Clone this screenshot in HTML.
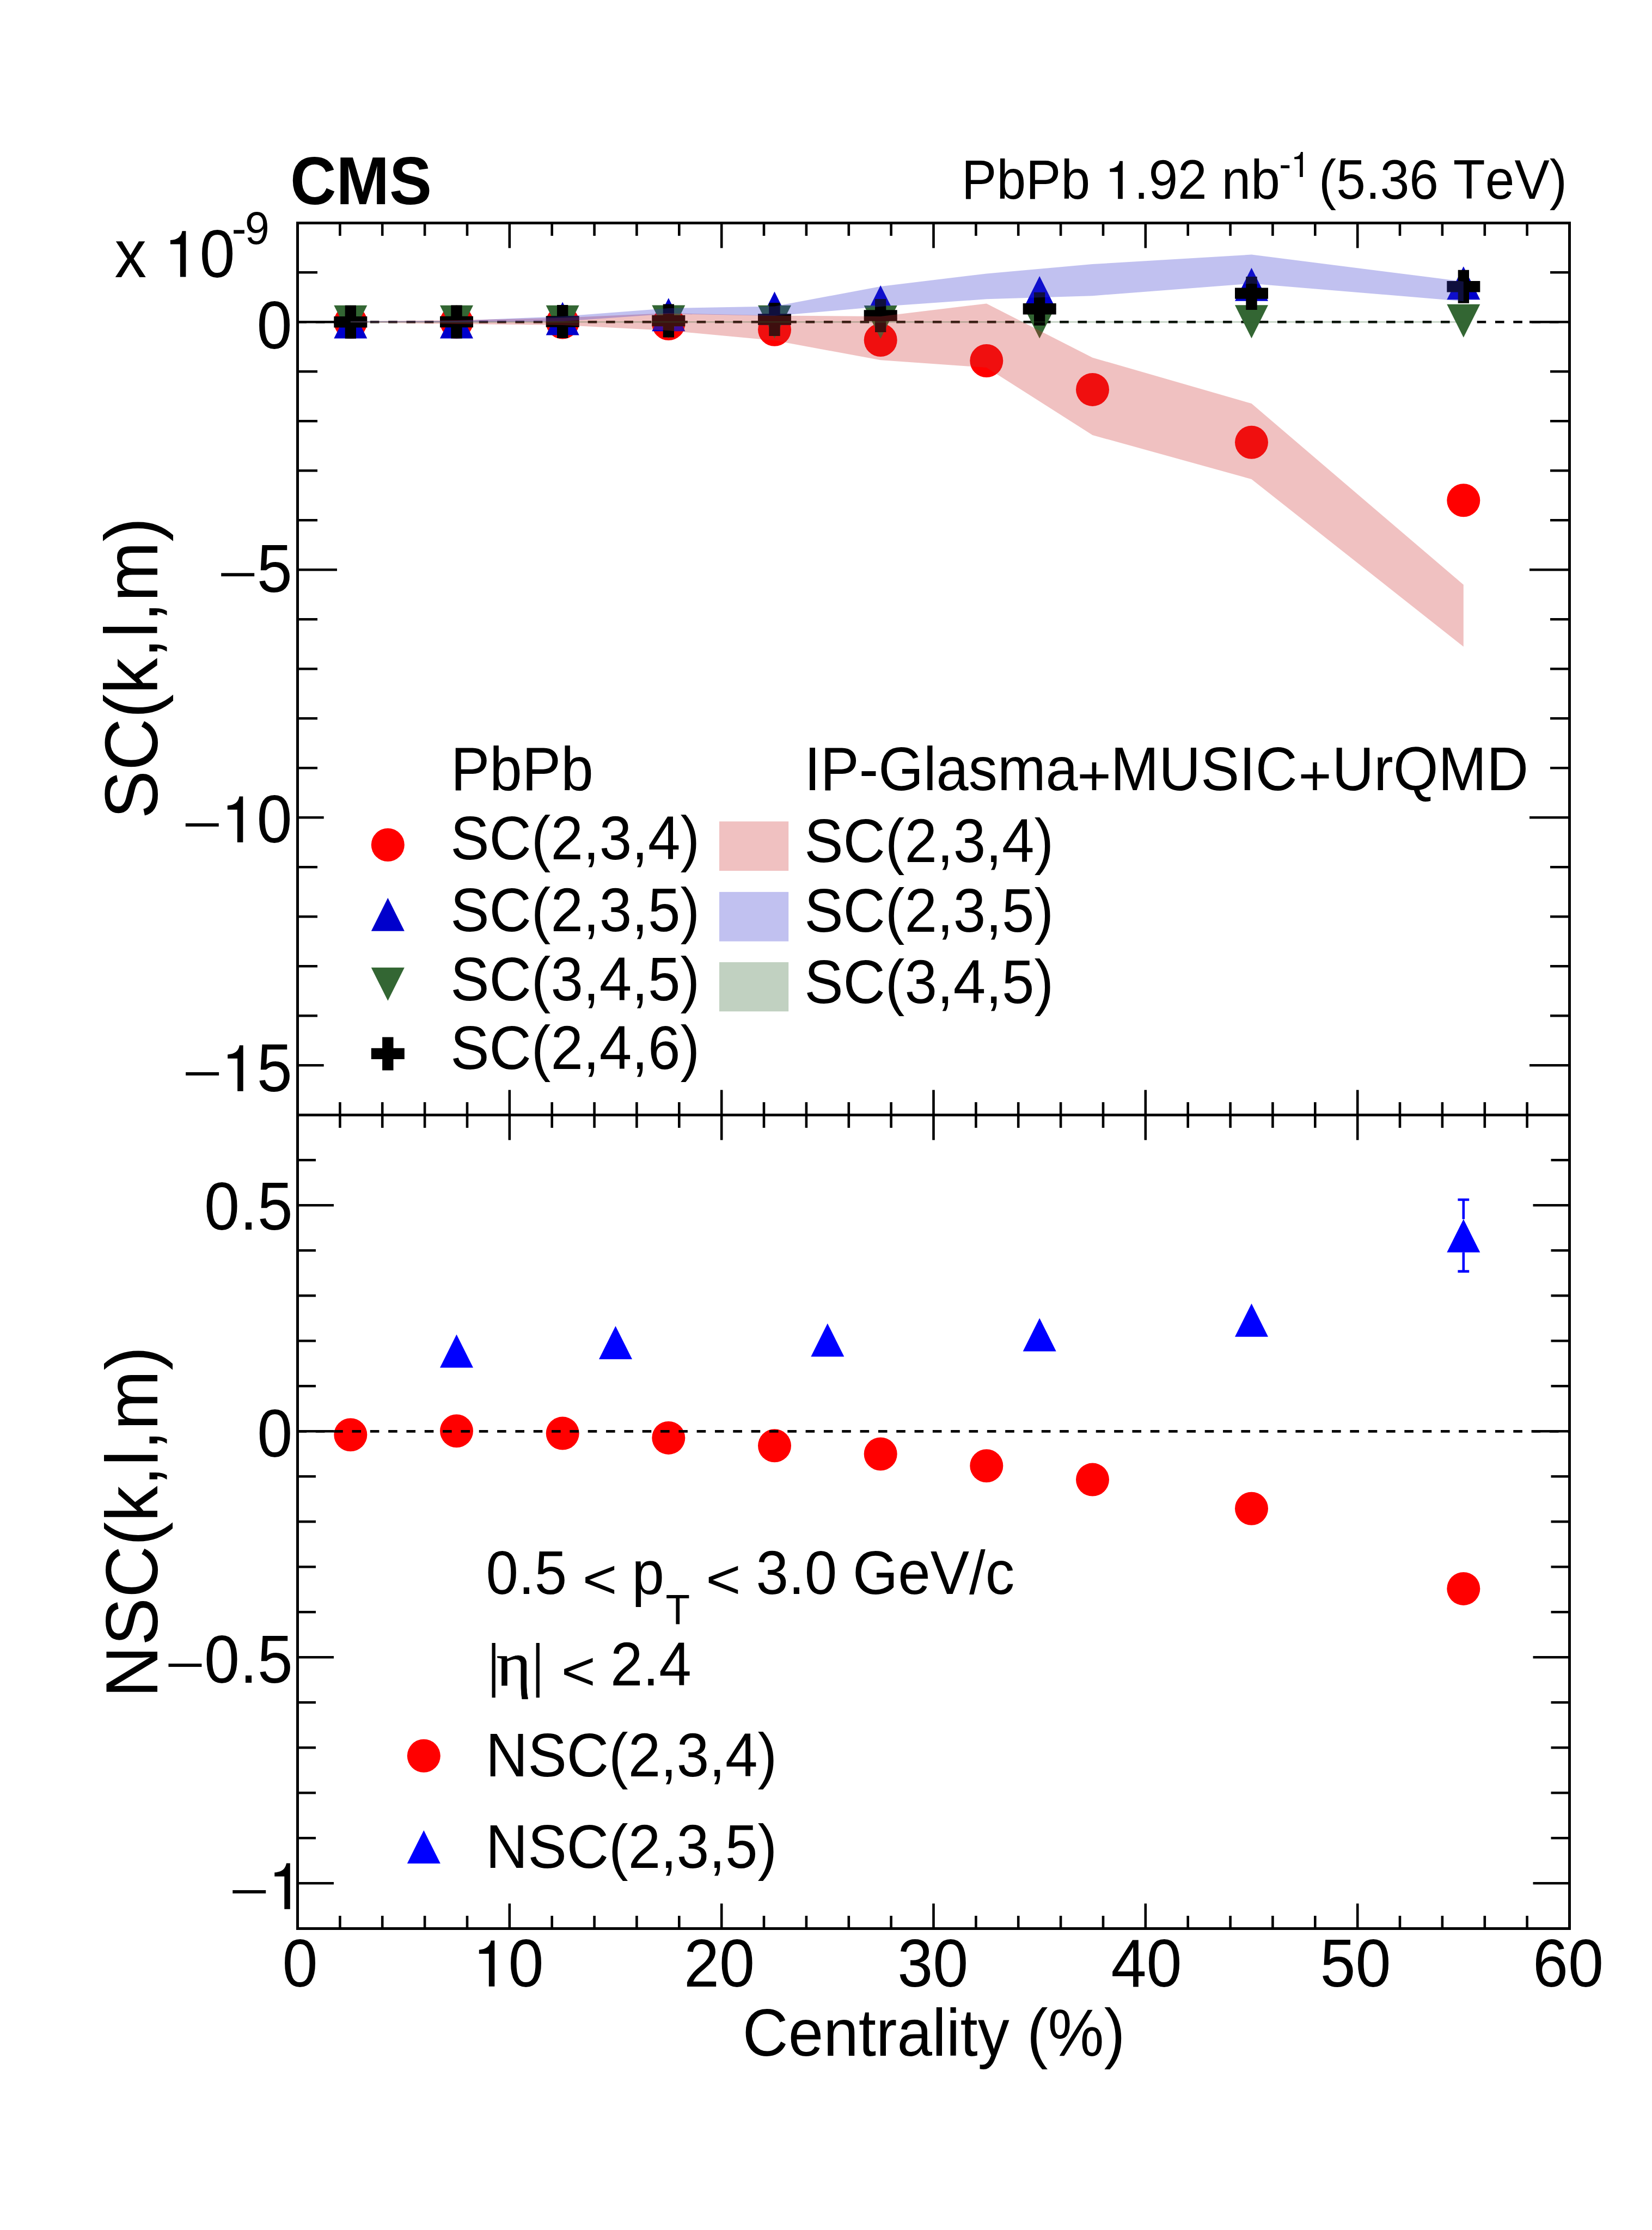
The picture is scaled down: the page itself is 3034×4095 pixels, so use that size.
<!DOCTYPE html>
<html><head><meta charset="utf-8"><title>CMS SC NSC</title><style>html,body{margin:0;padding:0;background:#fff;}svg{display:block;} text{font-kerning:none;}</style></head><body>
<svg width="3034" height="4095" viewBox="0 0 3034 4095">
<rect x="0" y="0" width="3034" height="4095" fill="#fff"/>
<line x1="546.5" y1="591.2" x2="2882.5" y2="591.2" stroke="#000" stroke-width="4.6" stroke-dasharray="16.6 16.725"/>
<circle cx="643.8" cy="591.5" r="30.5" fill="#ff0000"/>
<circle cx="838.5" cy="591.2" r="30.5" fill="#ff0000"/>
<circle cx="1033.2" cy="592.0" r="30.5" fill="#ff0000"/>
<circle cx="1227.8" cy="594.5" r="30.5" fill="#ff0000"/>
<circle cx="1422.5" cy="605.3" r="30.5" fill="#ff0000"/>
<circle cx="1617.2" cy="624.5" r="30.5" fill="#ff0000"/>
<circle cx="1811.8" cy="662.5" r="30.5" fill="#ff0000"/>
<circle cx="2006.5" cy="715.4" r="30.5" fill="#ff0000"/>
<circle cx="2298.5" cy="812.3" r="30.5" fill="#ff0000"/>
<circle cx="2687.8" cy="918.8" r="30.5" fill="#ff0000"/>
<path d="M613.3,621.6L674.3,621.6L643.8,560.6Z" fill="#0000cc"/>
<path d="M808.0,621.5L869.0,621.5L838.5,560.5Z" fill="#0000cc"/>
<path d="M1002.7,615.5L1063.7,615.5L1033.2,554.5Z" fill="#0000cc"/>
<path d="M1197.3,608.2L1258.3,608.2L1227.8,547.2Z" fill="#0000cc"/>
<path d="M1392.0,596.5L1453.0,596.5L1422.5,535.5Z" fill="#0000cc"/>
<path d="M1586.7,585.0L1647.7,585.0L1617.2,524.0Z" fill="#0000cc"/>
<path d="M1878.7,568.0L1939.7,568.0L1909.2,507.0Z" fill="#0000cc"/>
<path d="M2268.0,552.7L2329.0,552.7L2298.5,491.7Z" fill="#0000cc"/>
<path d="M2657.3,550.2L2718.3,550.2L2687.8,489.2Z" fill="#0000cc"/>
<path d="M613.3,560.7L674.3,560.7L643.8,621.7Z" fill="#336633"/>
<path d="M808.0,560.7L869.0,560.7L838.5,621.7Z" fill="#336633"/>
<path d="M1002.7,560.7L1063.7,560.7L1033.2,621.7Z" fill="#336633"/>
<path d="M1197.3,560.5L1258.3,560.5L1227.8,621.5Z" fill="#336633"/>
<path d="M1392.0,560.8L1453.0,560.8L1422.5,621.8Z" fill="#336633"/>
<path d="M1586.7,561.0L1647.7,561.0L1617.2,622.0Z" fill="#336633"/>
<path d="M1878.7,560.4L1939.7,560.4L1909.2,621.4Z" fill="#336633"/>
<path d="M2268.0,560.2L2329.0,560.2L2298.5,621.2Z" fill="#336633"/>
<path d="M2657.3,558.8L2718.3,558.8L2687.8,619.8Z" fill="#336633"/>
<path d="M633.7,560.7H654.0V581.0H674.3V601.4H654.0V621.7H633.7V601.4H613.3V581.0H633.7Z" fill="#000"/>
<path d="M828.3,560.5H848.7V580.8H869.0V601.2H848.7V621.5H828.3V601.2H808.0V580.8H828.3Z" fill="#000"/>
<path d="M1023.0,560.0H1043.3V580.3H1063.7V600.7H1043.3V621.0H1023.0V600.7H1002.7V580.3H1023.0Z" fill="#000"/>
<path d="M1217.7,558.5H1238.0V578.8H1258.3V599.2H1238.0V619.5H1217.7V599.2H1197.3V578.8H1217.7Z" fill="#000"/>
<path d="M1412.3,556.0H1432.7V576.3H1453.0V596.7H1432.7V617.0H1412.3V596.7H1392.0V576.3H1412.3Z" fill="#000"/>
<path d="M1607.0,549.0H1627.3V569.3H1647.7V589.7H1627.3V610.0H1607.0V589.7H1586.7V569.3H1607.0Z" fill="#000"/>
<path d="M1899.0,536.8H1919.3V557.1H1939.7V577.5H1919.3V597.8H1899.0V577.5H1878.7V557.1H1899.0Z" fill="#000"/>
<path d="M2288.3,508.1H2308.7V528.4H2329.0V548.8H2308.7V569.1H2288.3V548.8H2268.0V528.4H2288.3Z" fill="#000"/>
<path d="M2677.7,495.7H2698.0V516.0H2718.3V536.4H2698.0V556.7H2677.7V536.4H2657.3V516.0H2677.7Z" fill="#000"/>
<polygon points="643.8,590.0 838.5,588.0 1033.2,583.6 1227.8,575.0 1422.5,579.5 1617.2,581.0 1811.8,557.5 2006.5,656.7 2298.5,741.0 2687.8,1073.8 2687.8,1187.5 2298.5,880.0 2006.5,799.0 1811.8,674.9 1617.2,661.3 1422.5,625.3 1227.8,607.0 1033.2,597.0 838.5,595.0 643.8,592.0" fill="#cc3333" fill-opacity="0.3"/>
<polygon points="643.8,590.0 838.5,589.0 1033.2,581.0 1227.8,566.0 1422.5,562.5 1617.2,526.0 1811.8,502.4 2006.5,485.1 2298.5,467.5 2687.8,516.9 2687.8,553.2 2298.5,520.7 2006.5,543.2 1811.8,549.3 1617.2,563.0 1422.5,580.0 1227.8,576.3 1033.2,590.0 838.5,592.0 643.8,592.0" fill="#3333cc" fill-opacity="0.3"/>
<polygon points="643.8,590.0 838.5,590.0 1033.2,590.0 1227.8,590.0 1422.5,590.0 1617.2,590.0 1811.8,590.0 2006.5,590.0 2298.5,590.0 2687.8,590.0 2687.8,592.4 2298.5,592.4 2006.5,592.4 1811.8,592.4 1617.2,592.4 1422.5,592.4 1227.8,592.4 1033.2,592.4 838.5,592.4 643.8,592.4" fill="#336633" fill-opacity="0.3"/>
<circle cx="643.8" cy="2634.7" r="30.5" fill="#ff0000"/>
<circle cx="838.5" cy="2627.7" r="30.5" fill="#ff0000"/>
<circle cx="1033.2" cy="2632.1" r="30.5" fill="#ff0000"/>
<circle cx="1227.8" cy="2640.4" r="30.5" fill="#ff0000"/>
<circle cx="1422.5" cy="2654.8" r="30.5" fill="#ff0000"/>
<circle cx="1617.2" cy="2670.0" r="30.5" fill="#ff0000"/>
<circle cx="1811.8" cy="2691.7" r="30.5" fill="#ff0000"/>
<circle cx="2006.5" cy="2717.1" r="30.5" fill="#ff0000"/>
<circle cx="2298.5" cy="2770.2" r="30.5" fill="#ff0000"/>
<circle cx="2687.8" cy="2917.4" r="30.5" fill="#ff0000"/>
<path d="M808.0,2511.6L869.0,2511.6L838.5,2450.6Z" fill="#0000ff"/>
<path d="M1100.0,2495.9L1161.0,2495.9L1130.5,2434.9Z" fill="#0000ff"/>
<path d="M1489.3,2491.2L1550.3,2491.2L1519.8,2430.2Z" fill="#0000ff"/>
<path d="M1878.7,2481.5L1939.7,2481.5L1909.2,2420.5Z" fill="#0000ff"/>
<path d="M2268.0,2454.7L2329.0,2454.7L2298.5,2393.7Z" fill="#0000ff"/>
<path d="M2657.3,2299.8L2718.3,2299.8L2687.8,2238.8Z" fill="#0000ff"/>
<path d="M2687.8,2203V2238.8M2687.8,2299.8V2334.6M2677.4,2203H2698.2M2677.4,2334.6H2698.2" stroke="#0000ff" stroke-width="4.6" fill="none"/>
<line x1="546.5" y1="2628.3" x2="2882.5" y2="2628.3" stroke="#000" stroke-width="4.8" stroke-dasharray="16.6 16.725"/>
<path d="M624.4,409.5V433.0M624.4,2047.5V2024.0M702.2,409.5V433.0M702.2,2047.5V2024.0M780.1,409.5V433.0M780.1,2047.5V2024.0M858.0,409.5V433.0M858.0,2047.5V2024.0M935.8,409.5V455.5M935.8,2047.5V2001.5M1013.7,409.5V433.0M1013.7,2047.5V2024.0M1091.6,409.5V433.0M1091.6,2047.5V2024.0M1169.4,409.5V433.0M1169.4,2047.5V2024.0M1247.3,409.5V433.0M1247.3,2047.5V2024.0M1325.2,409.5V455.5M1325.2,2047.5V2001.5M1403.0,409.5V433.0M1403.0,2047.5V2024.0M1480.9,409.5V433.0M1480.9,2047.5V2024.0M1558.8,409.5V433.0M1558.8,2047.5V2024.0M1636.6,409.5V433.0M1636.6,2047.5V2024.0M1714.5,409.5V455.5M1714.5,2047.5V2001.5M1792.4,409.5V433.0M1792.4,2047.5V2024.0M1870.2,409.5V433.0M1870.2,2047.5V2024.0M1948.1,409.5V433.0M1948.1,2047.5V2024.0M2026.0,409.5V433.0M2026.0,2047.5V2024.0M2103.8,409.5V455.5M2103.8,2047.5V2001.5M2181.7,409.5V433.0M2181.7,2047.5V2024.0M2259.6,409.5V433.0M2259.6,2047.5V2024.0M2337.4,409.5V433.0M2337.4,2047.5V2024.0M2415.3,409.5V433.0M2415.3,2047.5V2024.0M2493.2,409.5V455.5M2493.2,2047.5V2001.5M2571.0,409.5V433.0M2571.0,2047.5V2024.0M2648.9,409.5V433.0M2648.9,2047.5V2024.0M2726.8,409.5V433.0M2726.8,2047.5V2024.0M2804.6,409.5V433.0M2804.6,2047.5V2024.0" stroke="#000" stroke-width="4.6" fill="none"/>
<path d="M624.4,2047.5V2071.0M624.4,3541.5V3518.0M702.2,2047.5V2071.0M702.2,3541.5V3518.0M780.1,2047.5V2071.0M780.1,3541.5V3518.0M858.0,2047.5V2071.0M858.0,3541.5V3518.0M935.8,2047.5V2093.5M935.8,3541.5V3495.5M1013.7,2047.5V2071.0M1013.7,3541.5V3518.0M1091.6,2047.5V2071.0M1091.6,3541.5V3518.0M1169.4,2047.5V2071.0M1169.4,3541.5V3518.0M1247.3,2047.5V2071.0M1247.3,3541.5V3518.0M1325.2,2047.5V2093.5M1325.2,3541.5V3495.5M1403.0,2047.5V2071.0M1403.0,3541.5V3518.0M1480.9,2047.5V2071.0M1480.9,3541.5V3518.0M1558.8,2047.5V2071.0M1558.8,3541.5V3518.0M1636.6,2047.5V2071.0M1636.6,3541.5V3518.0M1714.5,2047.5V2093.5M1714.5,3541.5V3495.5M1792.4,2047.5V2071.0M1792.4,3541.5V3518.0M1870.2,2047.5V2071.0M1870.2,3541.5V3518.0M1948.1,2047.5V2071.0M1948.1,3541.5V3518.0M2026.0,2047.5V2071.0M2026.0,3541.5V3518.0M2103.8,2047.5V2093.5M2103.8,3541.5V3495.5M2181.7,2047.5V2071.0M2181.7,3541.5V3518.0M2259.6,2047.5V2071.0M2259.6,3541.5V3518.0M2337.4,2047.5V2071.0M2337.4,3541.5V3518.0M2415.3,2047.5V2071.0M2415.3,3541.5V3518.0M2493.2,2047.5V2093.5M2493.2,3541.5V3495.5M2571.0,2047.5V2071.0M2571.0,3541.5V3518.0M2648.9,2047.5V2071.0M2648.9,3541.5V3518.0M2726.8,2047.5V2071.0M2726.8,3541.5V3518.0M2804.6,2047.5V2071.0M2804.6,3541.5V3518.0" stroke="#000" stroke-width="4.6" fill="none"/>
<path d="M546.5,1865.2H583.0M2882.5,1865.2H2847.0M546.5,1774.2H583.0M2882.5,1774.2H2847.0M546.5,1683.2H583.0M2882.5,1683.2H2847.0M546.5,1592.2H583.0M2882.5,1592.2H2847.0M546.5,1410.2H583.0M2882.5,1410.2H2847.0M546.5,1319.2H583.0M2882.5,1319.2H2847.0M546.5,1228.2H583.0M2882.5,1228.2H2847.0M546.5,1137.2H583.0M2882.5,1137.2H2847.0M546.5,1046.2H619.0M2882.5,1046.2H2809.0M546.5,955.2H583.0M2882.5,955.2H2847.0M546.5,864.2H583.0M2882.5,864.2H2847.0M546.5,773.2H583.0M2882.5,773.2H2847.0M546.5,682.2H583.0M2882.5,682.2H2847.0M546.5,591.2H619.0M2882.5,591.2H2809.0M546.5,500.2H583.0M2882.5,500.2H2847.0" stroke="#000" stroke-width="4.6" fill="none"/>
<path d="M546.5,1501.2H594.7M2882.5,1501.2H2809.0M546.5,1956.2H594.7M2882.5,1956.2H2809.0" stroke="#000" stroke-width="4.6" fill="none"/>
<path d="M546.5,3458.3H613.0M2882.5,3458.3H2815.5M546.5,3375.3H580.0M2882.5,3375.3H2848.5M546.5,3292.3H580.0M2882.5,3292.3H2848.5M546.5,3209.3H580.0M2882.5,3209.3H2848.5M546.5,3126.3H580.0M2882.5,3126.3H2848.5M546.5,3043.3H613.0M2882.5,3043.3H2815.5M546.5,2960.3H580.0M2882.5,2960.3H2848.5M546.5,2877.3H580.0M2882.5,2877.3H2848.5M546.5,2794.3H580.0M2882.5,2794.3H2848.5M546.5,2711.3H580.0M2882.5,2711.3H2848.5M546.5,2628.3H613.0M2882.5,2628.3H2815.5M546.5,2545.3H580.0M2882.5,2545.3H2848.5M546.5,2462.3H580.0M2882.5,2462.3H2848.5M546.5,2379.3H580.0M2882.5,2379.3H2848.5M546.5,2296.3H580.0M2882.5,2296.3H2848.5M546.5,2213.3H613.0M2882.5,2213.3H2815.5M546.5,2130.3H580.0M2882.5,2130.3H2848.5" stroke="#000" stroke-width="4.6" fill="none"/>
<rect x="546.5" y="409.5" width="2336.0" height="1638.0" fill="none" stroke="#000" stroke-width="5.0"/>
<rect x="546.5" y="2047.5" width="2336.0" height="1494.0" fill="none" stroke="#000" stroke-width="5.0"/>
<text transform="translate(471.50,640.10) scale(1,1.055)" font-family="Liberation Sans" font-size="117">0</text>
<rect x="406.21" y="1052.33" width="60.96" height="5.97" fill="#000"/>
<text transform="translate(471.84,1087.20) scale(1,1.055)" font-family="Liberation Sans" font-size="117">5</text>
<rect x="340.80" y="1511.83" width="60.96" height="5.97" fill="#000"/>
<path transform="translate(417.78,1546.70) scale(117,123.435)" d="M0.154,0L0.244,0L0.244,-0.682L0.186,-0.682C0.168,-0.592 0.11,-0.552 0,-0.546L0,-0.486L0.154,-0.486Z" fill="#000"/>
<text transform="translate(471.50,1546.70) scale(1,1.055)" font-family="Liberation Sans" font-size="117">0</text>
<rect x="341.14" y="1968.93" width="60.96" height="5.97" fill="#000"/>
<path transform="translate(418.12,2003.80) scale(117,123.435)" d="M0.154,0L0.244,0L0.244,-0.682L0.186,-0.682C0.168,-0.592 0.11,-0.552 0,-0.546L0,-0.486L0.154,-0.486Z" fill="#000"/>
<text transform="translate(471.84,2003.80) scale(1,1.055)" font-family="Liberation Sans" font-size="117">5</text>
<text transform="translate(375.07,2257.70) scale(1,1.055)" font-family="Liberation Sans" font-size="117">0.5</text>
<text transform="translate(472.30,2675.20) scale(1,1.055)" font-family="Liberation Sans" font-size="117">0</text>
<rect x="309.43" y="3054.93" width="60.96" height="5.97" fill="#000"/>
<text transform="translate(375.07,3089.80) scale(1,1.055)" font-family="Liberation Sans" font-size="117">0.5</text>
<rect x="427.27" y="3470.93" width="60.96" height="5.97" fill="#000"/>
<path transform="translate(504.25,3505.80) scale(117,123.435)" d="M0.154,0L0.244,0L0.244,-0.682L0.186,-0.682C0.168,-0.592 0.11,-0.552 0,-0.546L0,-0.486L0.154,-0.486Z" fill="#000"/>
<text transform="translate(518.43,3647.80) scale(1,1.055)" font-family="Liberation Sans" font-size="117">0</text>
<path transform="translate(879.80,3647.80) scale(117,123.435)" d="M0.154,0L0.244,0L0.244,-0.682L0.186,-0.682C0.168,-0.592 0.11,-0.552 0,-0.546L0,-0.486L0.154,-0.486Z" fill="#000"/>
<text transform="translate(933.52,3647.80) scale(1,1.055)" font-family="Liberation Sans" font-size="117">0</text>
<text transform="translate(1255.92,3647.80) scale(1,1.055)" font-family="Liberation Sans" font-size="117">20</text>
<text transform="translate(1648.24,3647.80) scale(1,1.055)" font-family="Liberation Sans" font-size="117">30</text>
<text transform="translate(2040.51,3647.80) scale(1,1.055)" font-family="Liberation Sans" font-size="117">40</text>
<text transform="translate(2424.42,3647.80) scale(1,1.055)" font-family="Liberation Sans" font-size="117">50</text>
<text transform="translate(2814.96,3647.80) scale(1,1.055)" font-family="Liberation Sans" font-size="117">60</text>
<text transform="translate(1363.87,3774.70) scale(1,1.055)" font-family="Liberation Sans" font-size="116">Centrality (%)</text>
<text transform="translate(289.40,1503.52) rotate(-90) scale(1,1.03)" font-family="Liberation Sans" font-size="132.8">SC(k,l,m)</text>
<text transform="translate(289.20,3117.44) rotate(-90) scale(1,1.03)" font-family="Liberation Sans" font-size="132.0">NSC(k,l,m)</text>
<text transform="translate(533.00,375.10) scale(1,1.055)" font-family="Liberation Sans" font-weight="bold" font-size="117">CMS</text>
<text transform="translate(1766.08,365.30) scale(1,1.055)" font-family="Liberation Sans" font-size="96.5">PbPb </text>
<path transform="translate(2038.32,365.30) scale(96.5,101.807)" d="M0.154,0L0.244,0L0.244,-0.682L0.186,-0.682C0.168,-0.592 0.11,-0.552 0,-0.546L0,-0.486L0.154,-0.486Z" fill="#000"/>
<text transform="translate(2082.63,365.30) scale(1,1.055)" font-family="Liberation Sans" font-size="96.5">.92 nb</text>
<text transform="translate(2349.37,325.00) scale(1,1.055)" font-family="Liberation Sans" font-size="66">-</text>
<path transform="translate(2377.20,325.00) scale(64,67.520)" d="M0.154,0L0.244,0L0.244,-0.682L0.186,-0.682C0.168,-0.592 0.11,-0.552 0,-0.546L0,-0.486L0.154,-0.486Z" fill="#000"/>
<text transform="translate(2422.12,365.30) scale(1,1.055)" font-family="Liberation Sans" font-size="96.5">(5.36 TeV)</text>
<text transform="translate(210.49,508.50) scale(1,1.055)" font-family="Liberation Sans" font-size="117">x </text>
<path transform="translate(312.84,508.50) scale(117,123.435)" d="M0.154,0L0.244,0L0.244,-0.682L0.186,-0.682C0.168,-0.592 0.11,-0.552 0,-0.546L0,-0.486L0.154,-0.486Z" fill="#000"/>
<text transform="translate(366.56,508.50) scale(1,1.055)" font-family="Liberation Sans" font-size="117">0</text>
<text transform="translate(425.50,447.80) scale(1,1.055)" font-family="Liberation Sans" font-size="81">-</text>
<text transform="translate(449.70,447.80) scale(1,1.055)" font-family="Liberation Sans" font-size="81">9</text>
<text transform="translate(827.92,1450.80) scale(1,1.055)" font-family="Liberation Sans" font-size="107">PbPb</text>
<text transform="translate(1477.18,1450.80) scale(1,1.055)" font-family="Liberation Sans" font-size="106.4">IP-Glasma</text>
<text transform="translate(1978.36,1460.23) scale(1.0079,0.9759)" font-family="Liberation Sans" font-size="106.4">+</text>
<text transform="translate(2039.67,1450.80) scale(1,1.055)" font-family="Liberation Sans" font-size="106.4">MUSIC</text>
<text transform="translate(2384.39,1460.23) scale(0.9827,0.9759)" font-family="Liberation Sans" font-size="106.4">+</text>
<text transform="translate(2446.49,1450.80) scale(1,1.055)" font-family="Liberation Sans" font-size="106.4">UrQMD</text>
<text transform="translate(827.24,1577.80) scale(1,1.055)" font-family="Liberation Sans" font-size="107">SC(2,3,4)</text>
<text transform="translate(827.24,1709.90) scale(1,1.055)" font-family="Liberation Sans" font-size="107">SC(2,3,5)</text>
<text transform="translate(827.24,1837.00) scale(1,1.055)" font-family="Liberation Sans" font-size="107">SC(3,4,5)</text>
<text transform="translate(827.24,1962.80) scale(1,1.055)" font-family="Liberation Sans" font-size="107">SC(2,4,6)</text>
<text transform="translate(1477.24,1582.90) scale(1,1.055)" font-family="Liberation Sans" font-size="107">SC(2,3,4)</text>
<text transform="translate(1477.24,1711.00) scale(1,1.055)" font-family="Liberation Sans" font-size="107">SC(2,3,5)</text>
<text transform="translate(1477.24,1841.80) scale(1,1.055)" font-family="Liberation Sans" font-size="107">SC(3,4,5)</text>
<circle cx="712.3" cy="1551.5" r="30.5" fill="#ff0000"/>
<path d="M681.8,1709.7L742.8,1709.7L712.3,1648.7Z" fill="#0000cc"/>
<path d="M681.8,1776.8L742.8,1776.8L712.3,1837.8Z" fill="#336633"/>
<path d="M702.1,1904.5H722.5V1924.8H742.8V1945.1H722.5V1965.5H702.1V1945.1H681.8V1924.8H702.1Z" fill="#000"/>
<rect x="1321.0" y="1508.4" width="127.2" height="90.7" fill="#cc3333" fill-opacity="0.3"/>
<rect x="1321.0" y="1637.9" width="127.2" height="90.7" fill="#3333cc" fill-opacity="0.3"/>
<rect x="1321.0" y="1766.9" width="127.2" height="90.4" fill="#336633" fill-opacity="0.3"/>
<text transform="translate(892.42,2926.80) scale(1,1.055)" font-family="Liberation Sans" font-size="107">0.5</text>
<text transform="translate(1069.82,2935.13) scale(1.0195,0.9478)" font-family="Liberation Sans" font-size="107">&lt;</text>
<text transform="translate(1160.60,2926.80) scale(1,1.055)" font-family="Liberation Sans" font-size="107">p</text>
<text transform="translate(1222.46,2982.80) scale(1,1.055)" font-family="Liberation Sans" font-size="73">T</text>
<text transform="translate(1296.16,2935.13) scale(1.0311,0.9478)" font-family="Liberation Sans" font-size="107">&lt;</text>
<text transform="translate(1388.62,2926.80) scale(1,1.055)" font-family="Liberation Sans" font-size="107">3.0</text>
<text transform="translate(1565.92,2926.80) scale(1,1.055)" font-family="Liberation Sans" font-size="107">GeV/c</text>
<rect x="903.5" y="3017" width="6.3" height="100.4" fill="#000"/>
<rect x="984.6" y="3017" width="6.3" height="100.4" fill="#000"/>
<text transform="translate(911.4,3094.9) scale(1.06,1)" font-family="Liberation Serif" font-size="116" stroke="#000" stroke-width="0.6">η</text>
<text transform="translate(1030.87,3103.12) scale(1.0099,0.9349)" font-family="Liberation Sans" font-size="107">&lt;</text>
<text transform="translate(1121.12,3094.90) scale(1,1.055)" font-family="Liberation Sans" font-size="107">2.4</text>
<text transform="translate(892.12,3261.90) scale(1,1.055)" font-family="Liberation Sans" font-size="107">NSC(2,3,4)</text>
<text transform="translate(892.12,3429.90) scale(1,1.055)" font-family="Liberation Sans" font-size="107">NSC(2,3,5)</text>
<circle cx="778.3" cy="3224.3" r="30.5" fill="#ff0000"/>
<path d="M747.8,3421.9L808.8,3421.9L778.3,3360.9Z" fill="#0000ff"/>
</svg>
</body></html>
